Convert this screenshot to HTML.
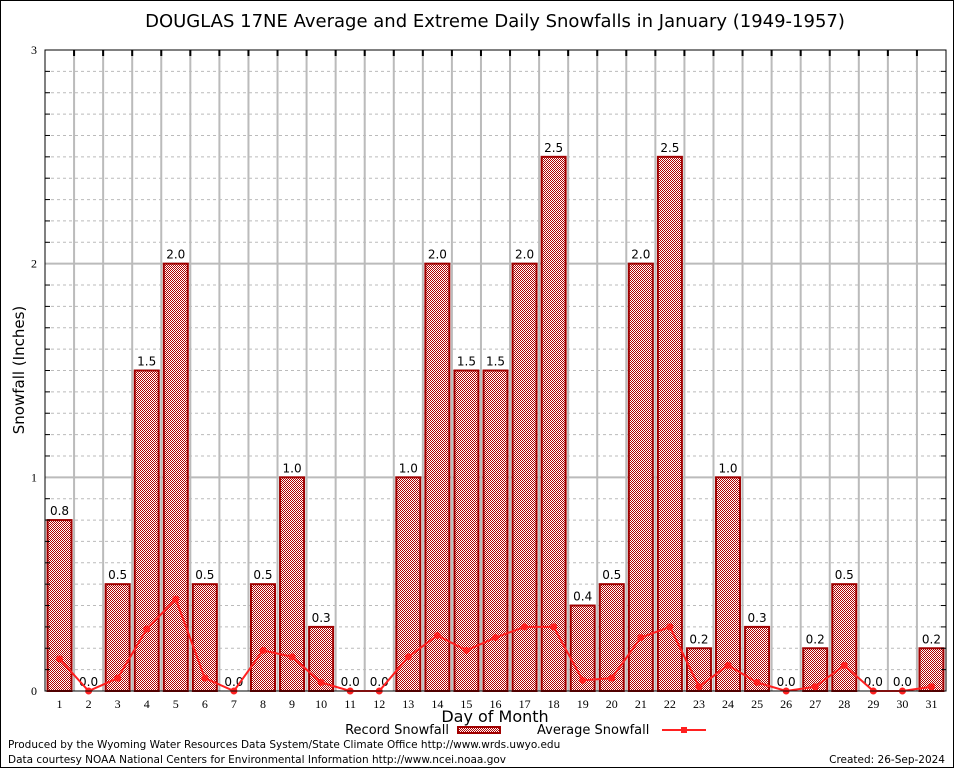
<!DOCTYPE html>
<html><head><meta charset="utf-8"><style>
body{margin:0;background:#fff}
svg{display:block;font-family:"DejaVu Sans","Liberation Sans",sans-serif}
</style></head><body>
<svg id="chart" width="954" height="768">
<defs>
<pattern id="chk" width="2" height="2" patternUnits="userSpaceOnUse">
<rect width="2" height="2" fill="#fff"/><rect width="1" height="1" fill="#b00000"/><rect x="1" y="1" width="1" height="1" fill="#b00000"/>
</pattern>
</defs>
<rect x="0.5" y="0.5" width="953" height="767" fill="#fff" stroke="#000"/>
<text x="495" y="27" text-anchor="middle" font-size="18">DOUGLAS 17NE Average and Extreme Daily Snowfalls in January (1949-1957)</text>
<g id="grid"></g>
<g id="bars"></g>
<g id="avg"></g>
<rect x="45" y="50" width="901" height="641" fill="none" stroke="#000"/>
<g id="axes"></g>
<text x="24" y="370" text-anchor="middle" font-size="15" transform="rotate(-90 24 370)">Snowfall (Inches)</text>
<text x="495" y="722" text-anchor="middle" font-size="16">Day of Month</text>
<g>
<text x="449" y="734" text-anchor="end" font-size="13">Record Snowfall</text>
<rect x="458" y="727" width="42" height="6" fill="url(#chk)" stroke="#a00000" stroke-width="2"/>
<text x="537" y="734" font-size="13">Average Snowfall</text>
<line x1="662" y1="730" x2="706" y2="730" stroke="#ff2020" stroke-width="2"/>
<rect x="681" y="727" width="6" height="6" fill="#ff2020"/>
</g>
<text x="8" y="748" font-size="10.5">Produced by the Wyoming Water Resources Data System/State Climate Office http://www.wrds.uwyo.edu</text>
<text x="8" y="763" font-size="10.5">Data courtesy NOAA National Centers for Environmental Information http://www.ncei.noaa.gov</text>
<text x="945" y="763" text-anchor="end" font-size="10.5">Created:  26-Sep-2024</text>
</svg>
<script>
const days = [1,2,3,4,5,6,7,8,9,10,11,12,13,14,15,16,17,18,19,20,21,22,23,24,25,26,27,28,29,30,31];
const recordSnow = [0.8,0,0.5,1.5,2.0,0.5,0,0.5,1.0,0.3,0,0,1.0,2.0,1.5,1.5,2.0,2.5,0.4,0.5,2.0,2.5,0.2,1.0,0.3,0,0.2,0.5,0,0,0.2];
const avgSnow = [0.15,0,0.06,0.29,0.43,0.06,0,0.19,0.16,0.04,0,0,0.16,0.26,0.19,0.25,0.30,0.30,0.05,0.06,0.25,0.30,0.02,0.12,0.04,0,0.02,0.12,0,0,0.02];
const yTicks = [0,1,2,3];
const NS="http://www.w3.org/2000/svg";
const L=45,R=946,T=50,B=691,YMAX=3;
const slot=(R-L)/days.length;
const xC=i=>L+slot*(i+0.5);
const y=v=>B-(v/YMAX)*(B-T);
function mk(tag,attrs,parent){const e=document.createElementNS(NS,tag);for(const k in attrs)e.setAttribute(k,attrs[k]);parent.appendChild(e);return e;}
const grid=document.getElementById('grid'),bars=document.getElementById('bars'),avg=document.getElementById('avg'),axes=document.getElementById('axes');
for(let k=1;k<YMAX*10;k++){if(k%10===0)continue;const g=mk('line',{x1:L,x2:R,y1:y(k/10),y2:y(k/10),stroke:'#bbb','stroke-dasharray':'3,3'},grid);


const t1=mk('line',{x1:L,x2:L+5,y1:y(k/10),y2:y(k/10),stroke:'#000'},axes);


const t2=mk('line',{x1:R-5,x2:R,y1:y(k/10),y2:y(k/10),stroke:'#000'},axes);

}
yTicks.forEach(v=>{if(v>0&&v<YMAX){const g=mk('line',{x1:L,x2:R,y1:y(v),y2:y(v),stroke:'#bbb','stroke-width':2},grid);

}
const t=mk('text',{x:L-8,y:y(v)+4,'text-anchor':'end','font-size':12,'font-family':'Liberation Serif, serif'},axes);t.textContent=v;

});
for(let i=1;i<days.length;i++){const g=mk('line',{x1:L+slot*i,x2:L+slot*i,y1:T,y2:B,stroke:'#bbb','stroke-width':2},grid);


const t=mk('line',{x1:L+slot*i,x2:L+slot*i,y1:T,y2:T+6,stroke:'#000','stroke-width':2},axes);

}
days.forEach((d,i)=>{
 const v=recordSnow[i];
 if(v>0){const b=mk('rect',{x:xC(i)-12,y:y(v),width:24,height:B-y(v),fill:'url(#chk)',stroke:'#a00000','stroke-width':2},bars);
 
 }
 const lb=mk('text',{x:xC(i),y:y(v)-5,'text-anchor':'middle','font-size':12},bars);lb.textContent=v.toFixed(1);
 
 
 const xt=mk('text',{x:xC(i),y:B+17,'text-anchor':'middle','font-size':12,'font-family':'Liberation Serif, serif'},axes);xt.textContent=d;
 
 
});
const pts=avgSnow.map((v,i)=>xC(i)+','+y(v)).join(' ');
const pl=mk('polyline',{points:pts,fill:'none',stroke:'#ff2020','stroke-width':2},avg);


avgSnow.forEach((v,i)=>{const c=mk('circle',{cx:xC(i),cy:y(v),r:3.5,fill:'#ff2020'},avg);

});
</script>
</body></html>
